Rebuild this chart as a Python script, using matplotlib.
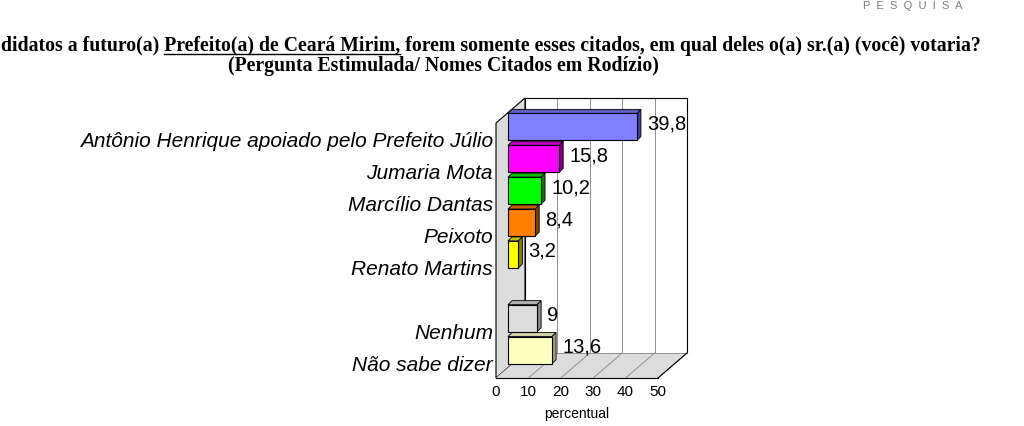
import matplotlib
matplotlib.use("Agg")
import matplotlib.pyplot as plt
from matplotlib.patches import Polygon
from matplotlib.lines import Line2D
from matplotlib.transforms import ScaledTranslation, IdentityTransform
import numpy as np

# Dados da pesquisa
candidatos = ["Antônio Henrique apoiado pelo Prefeito Júlio", "Jumaria Mota",
              "Marcílio Dantas", "Peixoto", "Renato Martins"]
votos_candidatos = [39.8, 15.8, 10.2, 8.4, 3.2]
outros = ["Nenhum", "Não sabe dizer"]
votos_outros = [9, 13.6]
ticks_x = [0, 10, 20, 30, 40, 50]

cores = ["#8080ff", "#ff00ff", "#00ff00", "#ff8000", "#ffff00", "#dcdcdc", "#ffffc0"]
cores_topo = ["#6060c0", "#c000c0", "#00c000", "#c06000", "#c0c000", "#b0b0b0", "#d0d0a0"]
cores_lado = ["#404090", "#800080", "#008000", "#804000", "#808000", "#888888", "#a0a080"]

titulo1 = ("didatos a futuro(a) ", "Prefeito(a) de Ceará Mirim,",
           " forem somente esses citados, em qual deles o(a) sr.(a) (você) votaria?")
titulo2 = "(Pergunta Estimulada/ Nomes Citados em Rodízio)"

nomes = candidatos + outros
valores = votos_candidatos + votos_outros
pos = list(range(len(candidatos))) + [len(candidatos) + 1 + i for i in range(len(outros))]

fig = plt.figure(figsize=(10.24, 4.26), dpi=100)
ax = fig.add_axes([496 / 1024, 48 / 426, 162 / 1024, 255 / 426])
ax.set_xlim(0, 50)
ax.set_ylim(7.5, -0.5)
for s in ax.spines.values():
    s.set_visible(False)
ax.patch.set_visible(False)

# profundidade do "3D" em pixels
prof = np.array([29.0, 25.0])
desl = np.array([12.0, 12.0])   # barras no meio da caixa
pb = 4.0                         # profundidade da barra

T = ax.transData.transform


def poly(pts, fc, ec="black", lw=0.8, z=1):
    p = Polygon(pts, closed=True, facecolor=fc, edgecolor=ec, linewidth=lw,
                transform=IdentityTransform(), zorder=z, clip_on=False)
    ax.add_artist(p)


def linha(a, b, cor="black", lw=0.8, z=1.5):
    ax.add_artist(Line2D([a[0], b[0]], [a[1], b[1]], color=cor, linewidth=lw,
                         transform=IdentityTransform(), zorder=z, clip_on=False))


f0 = T((0, 7.5))
f1 = T((50, 7.5))
f2 = T((0, -0.5))
f3 = T((50, -0.5))

# parede do fundo
poly([f0 + prof, f1 + prof, f3 + prof, f2 + prof], "white", ec="none", z=1)
for v in ticks_x[1:]:
    a = T((v, 7.5))
    b = T((v, -0.5))
    linha(a + prof, b + prof, cor="#909090", lw=0.7, z=1.2)
linha(f2 + prof, f3 + prof)
linha(f1 + prof, f3 + prof)
linha(f0 + prof, f2 + prof)

# parede esquerda e piso
poly([f2, f0, f0 + prof, f2 + prof], "#dcdcdc", z=2)
poly([f0, f1, f1 + prof, f0 + prof], "#dcdcdc", ec="none", z=2)
for v in ticks_x[1:]:
    a = T((v, 7.5))
    linha(a, a + prof, cor="#909090", lw=0.7, z=2.2)
linha(f0, f1, z=2.3)
linha(f1, f1 + prof, z=2.3)
linha(f0 + prof, f1 + prof, cor="#909090", lw=0.7, z=2.2)

# barras
off = ScaledTranslation(desl[0] / 100, desl[1] / 100, fig.dpi_scale_trans)
h = 0.85
bars = ax.barh(pos, valores, height=h, color=cores, edgecolor="black",
               linewidth=0.8, transform=ax.transData + off, zorder=5)
for b in bars:
    b.set_clip_on(False)

for p, v, ct, cl in zip(pos, valores, cores_topo, cores_lado):
    x0, yt = T((0, p - h / 2)) + desl
    x1, yb = T((v, p + h / 2)) + desl
    poly([(x0, yt), (x1, yt), (x1 + pb, yt + pb), (x0 + pb, yt + pb)], ct, lw=0.6, z=4)
    poly([(x1, yb), (x1 + pb, yb + pb), (x1 + pb, yt + pb), (x1, yt)], cl, lw=0.6, z=4)

# rótulos de valor
off_txt = ScaledTranslation((desl[0] + 10) / 100, (desl[1] + 3) / 100, fig.dpi_scale_trans)
for p, v in zip(pos, valores):
    txt = ("%g" % v).replace(".", ",")
    ax.text(v, p, txt, transform=ax.transData + off_txt, ha="left", va="center",
            fontsize=14.5, fontfamily="Liberation Sans", zorder=6, clip_on=False)

# rótulos das categorias (plano da frente)
off_lab = ScaledTranslation(-3 / 100, -3 / 100, fig.dpi_scale_trans)
for p, n in zip(pos, nomes):
    ax.text(0, p, n, transform=ax.transData + off_lab, ha="right", va="center",
            fontsize=15, fontstyle="italic", fontfamily="Liberation Sans",
            zorder=7, clip_on=False)

ax.set_yticks([])
ax.set_xticks(ticks_x)
ax.set_xticklabels([str(t) for t in ticks_x], fontsize=11, fontfamily="Liberation Sans")
ax.tick_params(axis="both", length=0)
ax.tick_params(axis="x", pad=5)
ax.set_xlabel("percentual", fontsize=10, fontfamily="Liberation Sans", labelpad=6)

# títulos
fonte_t = dict(fontfamily="Liberation Serif", fontweight="bold")
r = fig.canvas.get_renderer()


def largura(s, fs):
    t = fig.text(0, 0, s, fontsize=fs, **fonte_t)
    w = t.get_window_extent(r).width
    t.remove()
    return w


linha1 = "".join(titulo1)
fs = 13
fs = fs * 973 / largura(linha1, fs)
y1 = 426 - 46
fig.text(1 / 1024, y1 / 426, linha1, fontsize=fs, va="center", ha="left", **fonte_t)
xa = 1 + largura(titulo1[0] + "P", fs) - largura("P", fs)
xb = 1 + largura(titulo1[0] + titulo1[1], fs)
yu = y1 - 8
fig.add_artist(Line2D([xa, xb], [yu, yu], color="black", linewidth=1.0,
                      transform=IdentityTransform()))
fig.text(443 / 1024, (426 - 66) / 426, titulo2, fontsize=fs, va="center", ha="center", **fonte_t)

fig.text(962 / 1024, (426 - 6) / 426, "P  E  S  Q  U  I  S  A", fontsize=8,
         color="#7f7f7f", ha="right", va="center", fontfamily="Liberation Sans")

fig.savefig("out.png", dpi=100)
